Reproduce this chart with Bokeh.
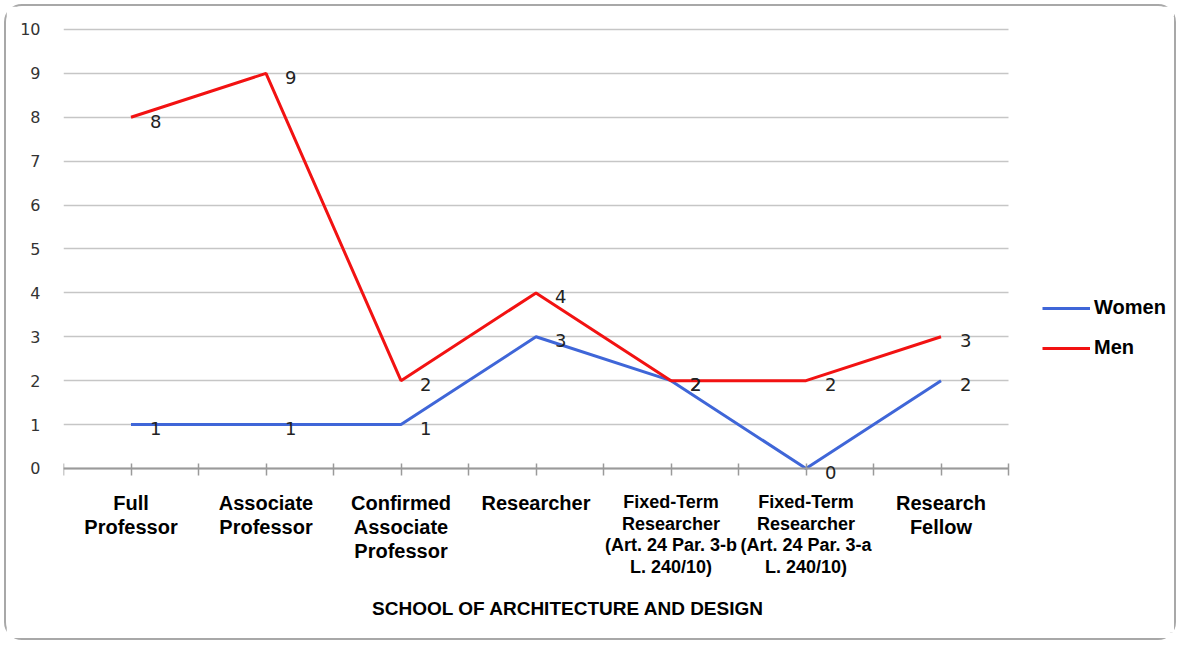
from bokeh.plotting import figure
from bokeh.models import (Range1d, FixedTicker, LabelSet, Label, Legend, LegendItem,
                          ColumnDataSource, LinearAxis)
from bokeh.core.properties import field, value
from bokeh.embed import file_html
from bokeh.resources import INLINE

# ---- data ----
categories = [
    "Full\nProfessor",
    "Associate\nProfessor",
    "Confirmed\nAssociate\nProfessor",
    "Researcher",
    "Fixed-Term\nResearcher\n(Art. 24 Par. 3-b\nL. 240/10)",
    "Fixed-Term\nResearcher\n(Art. 24 Par. 3-a\nL. 240/10)",
    "Research\nFellow",
]
women = [1, 1, 1, 3, 2, 0, 2]
men = [8, 9, 2, 4, 2, 2, 3]
y_ticks = list(range(0, 11))
title_text = "SCHOOL OF ARCHITECTURE AND DESIGN"

n = len(categories)
xs = [i + 0.5 for i in range(n)]

W, H = 1172, 636
BAND = 135.0                      # px per category
LEFT = 57
x_end = (W - LEFT) / BAND         # frame spans to the right edge (room for the legend)

p = figure(width=W, height=H, output_backend="svg", toolbar_location=None,
           x_range=Range1d(0, x_end), y_range=Range1d(-3.736, 10.296),
           min_border_left=LEFT, min_border_right=0, min_border_top=10, min_border_bottom=10)
p.styles = {"border": "2px solid #a8a8a8", "border-radius": "18px", "margin": "4px"}
p.outline_line_color = None
p.background_fill_color = "white"
p.border_fill_color = "white"

# no default grids: horizontal gridlines are drawn by an underlay axis' inner ticks
p.xgrid.grid_line_color = None
p.ygrid.grid_line_color = None

# y axis (labels only)
ya = p.yaxis[0]
ya.ticker = FixedTicker(ticks=y_ticks)
ya.axis_line_color = None
ya.major_tick_line_color = None
ya.minor_tick_line_color = None
ya.major_label_standoff = 17
ya.major_label_text_font = "DejaVu Sans"
ya.major_label_text_font_size = "16px"
ya.major_label_text_color = "#333333"

# gridline axis at x = 0, behind the data, ticks reaching across the categories
gaxis = LinearAxis(fixed_location=0, level="underlay", ticker=FixedTicker(ticks=y_ticks))
gaxis.axis_line_color = None
gaxis.major_tick_in = int(n * BAND)
gaxis.major_tick_out = 0
gaxis.major_tick_line_color = "#c6c6c6"
gaxis.major_tick_line_width = 1.5
gaxis.minor_tick_line_color = None
gaxis.major_label_text_color = None
gaxis.major_label_text_font_size = "1px"
p.add_layout(gaxis, "left")

# x axis at y = 0: tick marks at every half category, labels drawn with LabelSet
xa = p.xaxis[0]
xa.fixed_location = 0
xa.bounds = (0, n)
xa.ticker = FixedTicker(ticks=[i * 0.5 for i in range(2 * n + 1)])
xa.major_label_text_color = None
xa.major_label_text_font_size = "1px"
xa.axis_line_color = "#9a9a9a"
xa.axis_line_width = 2
xa.major_tick_line_color = "#9a9a9a"
xa.major_tick_line_width = 1.5
xa.major_tick_in = 5
xa.major_tick_out = 7
xa.minor_tick_line_color = None

# lines
rw = p.line(xs, women, line_color="#3f66d8", line_width=3)
rm = p.line(xs, men, line_color="#f21212", line_width=3)

# data labels
for vals in (women, men):
    src = ColumnDataSource(dict(x=xs, y=vals, t=[str(v) for v in vals]))
    p.add_layout(LabelSet(x="x", y="y", text="t", source=src, x_offset=19, y_offset=-4,
                          text_baseline="middle", text_align="left",
                          text_font=value("DejaVu Sans"), text_font_size=value("18px"),
                          text_color="#222222"))

# category labels: one row per text line so that every line is centred
lx, lt, ls, loff = [], [], [], []
for x, c in zip(xs, categories):
    small = "Fixed-Term" in c
    step = 21.4 if small else 24.0
    for i, line in enumerate(c.split("\n")):
        lx.append(x)
        lt.append(line)
        ls.append("18px" if small else "20px")
        loff.append(-(24 + i * step))
csrc = ColumnDataSource(dict(x=lx, y=[0] * len(lx), t=lt, s=ls, off=loff))
p.add_layout(LabelSet(x="x", y="y", text="t", source=csrc, y_offset=field("off"),
                      text_baseline="top", text_align="center",
                      text_font=value("Liberation Sans"), text_font_style=value("bold"),
                      text_font_size=field("s"), text_color="black"))

# bottom title
p.add_layout(Label(x=3.74, y=-3.19, text=title_text, text_align="center",
                   text_baseline="middle", text_font="Liberation Sans",
                   text_font_style="bold", text_font_size="19px", text_color="black"))

# legend
legend = Legend(items=[LegendItem(label="Women", renderers=[rw]),
                       LegendItem(label="Men", renderers=[rm])],
                location=(979, 273), orientation="vertical")
legend.glyph_width = 48
legend.glyph_height = 20
legend.label_height = 20
legend.spacing = 17
legend.padding = 0
legend.margin = 0
legend.label_standoff = 4
legend.border_line_color = None
legend.background_fill_alpha = 0
legend.label_text_font = "Liberation Sans"
legend.label_text_font_style = "bold"
legend.label_text_font_size = "20px"
legend.label_text_color = "black"
p.add_layout(legend, "center")

open("out.html", "w").write(file_html(p, INLINE))
